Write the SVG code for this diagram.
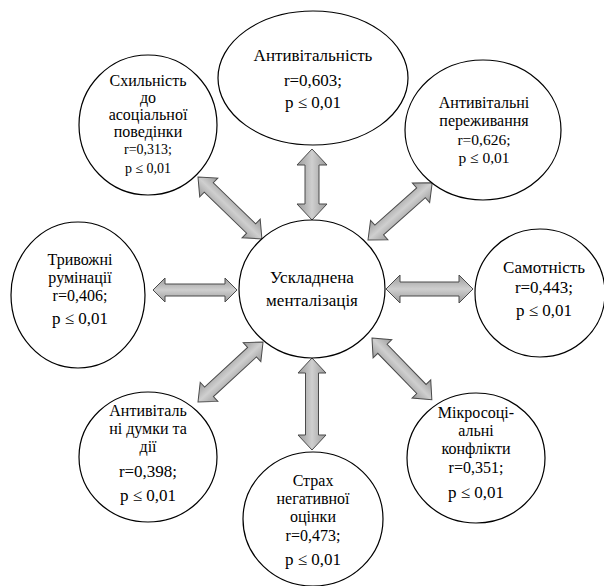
<svg xmlns="http://www.w3.org/2000/svg" width="604" height="586" viewBox="0 0 604 586">
<style>
.n{fill:#fff;stroke:#000;stroke-width:1.2}
text{font-family:"Liberation Serif","Times New Roman",serif;font-size:17px;fill:#000;text-anchor:middle}
.t{font-size:16px}
.s{font-size:14px}
.m{font-size:15.5px}
.a{fill:url(#g);stroke:#4a4a4a;stroke-width:1}
</style>
<defs>
<linearGradient id="g" x1="0" y1="0" x2="0" y2="1">
<stop offset="0" stop-color="#9a9a9a"/>
<stop offset="0.5" stop-color="#cfcfcf"/>
<stop offset="1" stop-color="#9a9a9a"/>
</linearGradient>
</defs>
<rect width="604" height="586" fill="#fff"/>
<g id="connectors">
<path class="a" transform="translate(312,149) rotate(90)" d="M0,0 L16,-15 L16,-7 L55,-7 L55,-15 L71,0 L55,15 L55,7 L16,7 L16,15 Z"/>
<path class="a" transform="translate(312,358) rotate(90)" d="M0,0 L15,-14 L15,-6.5 L77,-6.5 L77,-14 L92,0 L77,14 L77,6.5 L15,6.5 L15,14 Z"/>
<path class="a" transform="translate(153,290)" d="M0,0 L12,-12 L12,-6 L72,-6 L72,-12 L84,0 L72,12 L72,6 L12,6 L12,12 Z"/>
<path class="a" transform="translate(386,289)" d="M0,0 L14,-14 L14,-7 L73,-7 L73,-14 L87,0 L73,14 L73,7 L14,7 L14,14 Z"/>
<path class="a" transform="translate(368,240) rotate(-41.7)" d="M0,0 L15,-13 L15,-6.5 L71,-6.5 L71,-13 L86,0 L71,13 L71,6.5 L15,6.5 L15,13 Z"/>
<path class="a" transform="translate(198,177) rotate(44.1)" d="M0,0 L15,-13 L15,-6.5 L74,-6.5 L74,-13 L89,0 L74,13 L74,6.5 L15,6.5 L15,13 Z"/>
<path class="a" transform="translate(198,402) rotate(-42.7)" d="M0,0 L15,-13 L15,-6.5 L73.5,-6.5 L73.5,-13 L88.5,0 L73.5,13 L73.5,6.5 L15,6.5 L15,13 Z"/>
<path class="a" transform="translate(372,338) rotate(45.9)" d="M0,0 L15,-13 L15,-6.5 L71,-6.5 L71,-13 L86,0 L71,13 L71,6.5 L15,6.5 L15,13 Z"/>
</g>
<g id="center">
<ellipse class="n" cx="312" cy="289" rx="73" ry="69"/>
<text x="312" y="283">Ускладнена</text>
<text x="312" y="306">менталізація</text>
</g>
<g id="antyvitalnist">
<ellipse class="n" cx="313" cy="78" rx="95" ry="67"/>
<text x="313" y="61">Антивітальність</text>
<text x="313" y="86">r=0,603;</text>
<text x="313" y="108">p ≤ 0,01</text>
</g>
<g id="antyvitalni-perezhyvannia">
<ellipse class="n" cx="483" cy="130" rx="78" ry="70"/>
<text class="t" x="484" y="108">Антивітальні</text>
<text class="t" x="484" y="126">переживання</text>
<text class="m" x="484" y="145">r=0,626;</text>
<text class="m" x="484" y="163">p ≤ 0,01</text>
</g>
<g id="skhylnist">
<ellipse class="n" cx="148" cy="125" rx="69" ry="70"/>
<text class="t" x="148" y="86">Схильність</text>
<text class="t" x="148" y="103">до</text>
<text class="t" x="148" y="120">асоціальної</text>
<text class="t" x="148" y="137">поведінки</text>
<text class="s" x="148" y="154">r=0,313;</text>
<text class="s" x="148" y="173">p ≤ 0,01</text>
</g>
<g id="tryvozhni-ruminatsii">
<ellipse class="n" cx="78" cy="295" rx="67" ry="73"/>
<text class="t" x="80" y="265">Тривожні</text>
<text class="t" x="80" y="283">румінації</text>
<text class="t" x="80" y="301">r=0,406;</text>
<text x="80" y="324">p ≤ 0,01</text>
</g>
<g id="samotnist">
<ellipse class="n" cx="540" cy="293" rx="65" ry="64"/>
<text x="544" y="273">Самотність</text>
<text x="544" y="293">r=0,443;</text>
<text x="544" y="316">p ≤ 0,01</text>
</g>
<g id="mikrosotsialni-konflikty">
<ellipse class="n" cx="476" cy="458" rx="69" ry="65"/>
<text class="t" x="476" y="418">Мікросоці-</text>
<text class="t" x="476" y="436">альні</text>
<text class="t" x="476" y="454">конфлікти</text>
<text class="t" x="476" y="473">r=0,351;</text>
<text x="476" y="498">p ≤ 0,01</text>
</g>
<g id="strakh">
<ellipse class="n" cx="313" cy="519" rx="70" ry="67"/>
<text class="t" x="313" y="486">Страх</text>
<text class="t" x="313" y="504">негативної</text>
<text class="t" x="313" y="522">оцінки</text>
<text class="t" x="313" y="541">r=0,473;</text>
<text x="313" y="565">p ≤ 0,01</text>
</g>
<g id="antyvitalni-dumky">
<ellipse class="n" cx="148" cy="457" rx="69" ry="65"/>
<text class="t" x="148" y="416">Антивіталь</text>
<text class="t" x="148" y="434">ні думки та</text>
<text class="t" x="148" y="452">дії</text>
<text x="148" y="477">r=0,398;</text>
<text x="148" y="501">p ≤ 0,01</text>
</g>
</svg>
